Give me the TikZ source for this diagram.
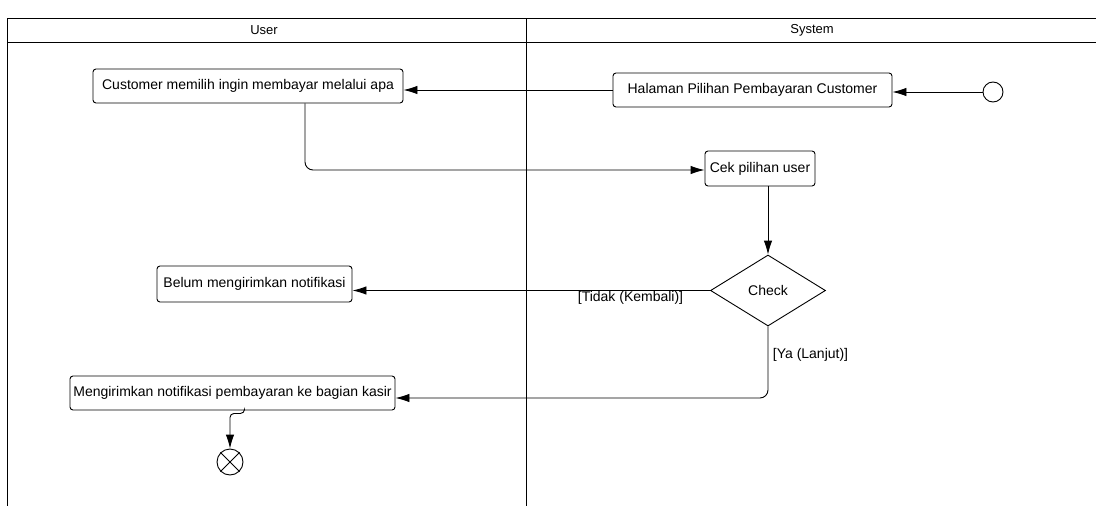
\documentclass[tikz,border=0pt]{standalone}
\usepackage{fontspec}
\setmainfont{Liberation Sans}
\usetikzlibrary{arrows.meta,shapes.geometric,calc}
\begin{document}
\begin{tikzpicture}[x=1pt,y=-1pt,
  line width=0.9pt,
  txt/.style={font=\fontsize{14}{16}\selectfont},
  act/.style={draw, rounded corners=3pt, minimum height=34pt, inner sep=0pt, txt},
  flow/.style={-{Latex[length=14pt,width=8.5pt]}},
  guard/.style={txt, inner sep=0pt}
]
\useasboundingbox (0,0) rectangle (1096,506);

% swimlane frame
\draw (7,506) -- (7,18) -- (1096,18);
\draw (7,42) -- (1096,42);
\draw (526,18) -- (526,506);
\node[font=\fontsize{13}{15}\selectfont] (laneU) at (264,30) {User};
\node[font=\fontsize{13}{15}\selectfont] (laneS) at (812,30) {System};

% activities
\node[act, minimum width=310pt] (cust) at (248,86) {Customer memilih ingin membayar melalui apa};
\node[act, minimum width=279pt] (hal) at (752.5,90) {Halaman Pilihan Pembayaran Customer};
\node[act, minimum width=110pt, minimum height=35pt] (cek) at (760,168.5) {Cek pilihan user};
\node[act, minimum width=195pt, minimum height=36pt] (belum) at (254.5,284) {Belum mengirimkan notifikasi};
\node[act, minimum width=325pt] (kirim) at (232.5,393) {Mengirimkan notifikasi pembayaran ke bagian kasir};
\node[draw, diamond, aspect=1.6, inner sep=0pt, minimum width=115pt, minimum height=71pt, txt] (chk) at (768,290.5) {Check};

% initial and final nodes
\node[draw, circle, minimum size=20pt, inner sep=0pt] (start) at (993,92) {};
\node[draw, circle, minimum size=26pt, inner sep=0pt] (stop) at (230,462) {};
\draw (stop.north east) -- (stop.south west) (stop.north west) -- (stop.south east);

% control flows
\draw[flow] (start.west) -- (start.west -| hal.east);
\draw[flow] (hal.west) -- (hal.west -| cust.east);
\draw[flow, rounded corners=8pt] ([xshift=57pt]cust.south) |- ([yshift=-1.5pt]cek.west);
\draw[flow] (chk.north |- cek.south) -- (chk.north);
\draw[flow] (chk.west) -- (chk.west -| belum.east);
\draw[flow, rounded corners=8pt] (chk.south) |- ([yshift=-5pt]kirim.east);
\draw[flow, rounded corners=4pt] ([xshift=12pt]kirim.south) -- ++(0,3) -| (stop.north);

% guards
\node[guard] (gno) at (630.5,298) {[Tidak (Kembali)]};
\node[guard] (gyes) at (810.5,355) {[Ya (Lanjut)]};
\end{tikzpicture}
\end{document}
